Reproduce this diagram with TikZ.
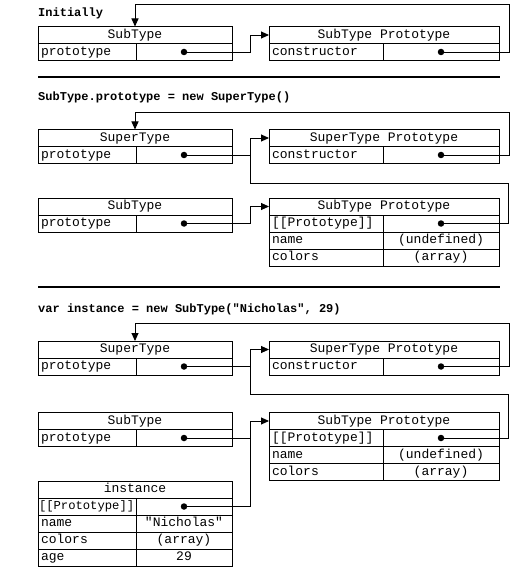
\documentclass[tikz,border=0pt]{standalone}
\usepackage{fontspec}
\setmonofont{Liberation Mono}
\usetikzlibrary{arrows.meta,calc}
\newcommand{\cellfont}{\fontsize{13}{13}\selectfont\ttfamily}
\newcommand{\titlefont}{\fontsize{12}{12}\selectfont\ttfamily\bfseries}
\begin{document}
\begin{tikzpicture}[x=1pt,y=-1pt,
  box/.style={draw, line width=0.9pt, anchor=north west, inner sep=0pt, outer sep=0pt,
    minimum height=17pt, text height=9pt, text depth=2.5pt, font=\cellfont},
  hdr/.style={box, minimum width=#1},
  key/.style={box, text width=#1, inner xsep=3pt, align=left},
  val/.style={box, minimum width=#1},
  dotn/.style={circle, fill, inner sep=0pt, outer sep=0pt, minimum size=6.5pt},
  conn/.style={line width=0.9pt},
  arr/.style={conn, -{Triangle[length=8pt,width=7pt]}},
  title/.style={anchor=west, inner sep=0pt, font=\titlefont},
  sepline/.style={line width=2pt}
]
\useasboundingbox (0,0) rectangle (518,577);

% ---------------- Section 1 ----------------
\node[title] (t1) at (38,13) {Initially};
\node[hdr=194] (a0) at (38,26.5) {SubType};
\node[key=92] (a1k) at (a0.south west) {prototype};
\node[val=96] (a1v) at (a1k.north east) {};
\node[hdr=230] (b0) at (269,26.5) {SubType Prototype};
\node[key=108] (b1k) at (b0.south west) {constructor};
\node[val=116] (b1v) at (b1k.north east) {};
\node[dotn] (a1d) at (a1v.center) {};
\node[dotn] (b1d) at (b1v.center) {};
\coordinate (j1) at (250,0);
\coordinate (r1) at (509,4);
\draw[arr] (a1d.center) -- (a1d -| j1) |- (b0.west);
\draw[arr] (b1d.center) -| (r1) -| (a0.north);
\coordinate (s1a) at (38,77.5);
\coordinate (s1b) at (500,77.5);
\draw[sepline] (s1a) -- (s1b);

% ---------------- Section 2 ----------------
\node[title] (t2) at (38,97.5) {SubType.prototype = new SuperType()};
\node[hdr=194] (c0) at (38,129.5) {SuperType};
\node[key=92] (c1k) at (c0.south west) {prototype};
\node[val=96] (c1v) at (c1k.north east) {};
\node[hdr=230] (e0) at (269,129.5) {SuperType Prototype};
\node[key=108] (e1k) at (e0.south west) {constructor};
\node[val=116] (e1v) at (e1k.north east) {};
\node[hdr=194] (f0) at (38,198) {SubType};
\node[key=92] (f1k) at (f0.south west) {prototype};
\node[val=96] (f1v) at (f1k.north east) {};
\node[hdr=230] (g0) at (269,198) {SubType Prototype};
\node[key=108] (g1k) at (g0.south west) {[[Prototype]]};
\node[val=116] (g1v) at (g1k.north east) {};
\node[key=108] (g2k) at (g1k.south west) {name};
\node[val=116] (g2v) at (g2k.north east) {(undefined)};
\node[key=108] (g3k) at (g2k.south west) {colors};
\node[val=116] (g3v) at (g3k.north east) {(array)};
\node[dotn] (c1d) at (c1v.center) {};
\node[dotn] (e1d) at (e1v.center) {};
\node[dotn] (f1d) at (f1v.center) {};
\node[dotn] (g1d) at (g1v.center) {};
\coordinate (j2) at (250,183);
\coordinate (r2) at (508,183);
\coordinate (r2t) at (509,112);
\draw[arr] (c1d.center) -- (c1d -| j2) |- (e0.west);
\draw[conn] (g1d.center) -| (r2) -- (j2) -- (c1d -| j2);
\draw[arr] (e1d.center) -| (r2t) -| (c0.north);
\draw[arr] (f1d.center) -- (f1d -| j2) |- (g0.west);
\coordinate (s2a) at (38,286.5);
\coordinate (s2b) at (500,286.5);
\draw[sepline] (s2a) -- (s2b);

% ---------------- Section 3 ----------------
\node[title] (t3) at (38,309) {var instance = new SubType("Nicholas", 29)};
\node[hdr=194] (h0) at (38,341) {SuperType};
\node[key=92] (h1k) at (h0.south west) {prototype};
\node[val=96] (h1v) at (h1k.north east) {};
\node[hdr=230] (i0) at (269,341) {SuperType Prototype};
\node[key=108] (i1k) at (i0.south west) {constructor};
\node[val=116] (i1v) at (i1k.north east) {};
\node[hdr=194] (k0) at (38,412.5) {SubType};
\node[key=92] (k1k) at (k0.south west) {prototype};
\node[val=96] (k1v) at (k1k.north east) {};
\node[hdr=230] (m0) at (269,412.5) {SubType Prototype};
\node[key=108] (m1k) at (m0.south west) {[[Prototype]]};
\node[val=116] (m1v) at (m1k.north east) {};
\node[key=108] (m2k) at (m1k.south west) {name};
\node[val=116] (m2v) at (m2k.north east) {(undefined)};
\node[key=108] (m3k) at (m2k.south west) {colors};
\node[val=116] (m3v) at (m3k.north east) {(array)};
\node[hdr=194] (n0) at (38,481) {instance};
\node[key=96, inner xsep=1pt, font=\fontsize{12.2}{12}\selectfont\ttfamily] (n1k) at (n0.south west) {[[Prototype]]};
\node[val=96] (n1v) at (n1k.north east) {};
\node[key=92] (n2k) at (n1k.south west) {name};
\node[val=96] (n2v) at (n2k.north east) {"Nicholas"};
\node[key=92] (n3k) at (n2k.south west) {colors};
\node[val=96] (n3v) at (n3k.north east) {(array)};
\node[key=92] (n4k) at (n3k.south west) {age};
\node[val=96] (n4v) at (n4k.north east) {29};
\node[dotn] (h1d) at (h1v.center) {};
\node[dotn] (i1d) at (i1v.center) {};
\node[dotn] (k1d) at (k1v.center) {};
\node[dotn] (m1d) at (m1v.center) {};
\node[dotn] (n1d) at (n1v.center) {};
\coordinate (j3) at (250,394);
\coordinate (r3) at (508,394);
\coordinate (r3t) at (509,323);
\draw[arr] (h1d.center) -- (h1d -| j3) |- (i0.west);
\draw[conn] (m1d.center) -| (r3) -- (j3) -- (h1d -| j3);
\draw[arr] (i1d.center) -| (r3t) -| (h0.north);
\draw[arr] (k1d.center) -- (k1d -| j3) |- (m0.west);
\draw[conn] (n1d.center) -| (k1d -| j3);
\end{tikzpicture}
\end{document}
